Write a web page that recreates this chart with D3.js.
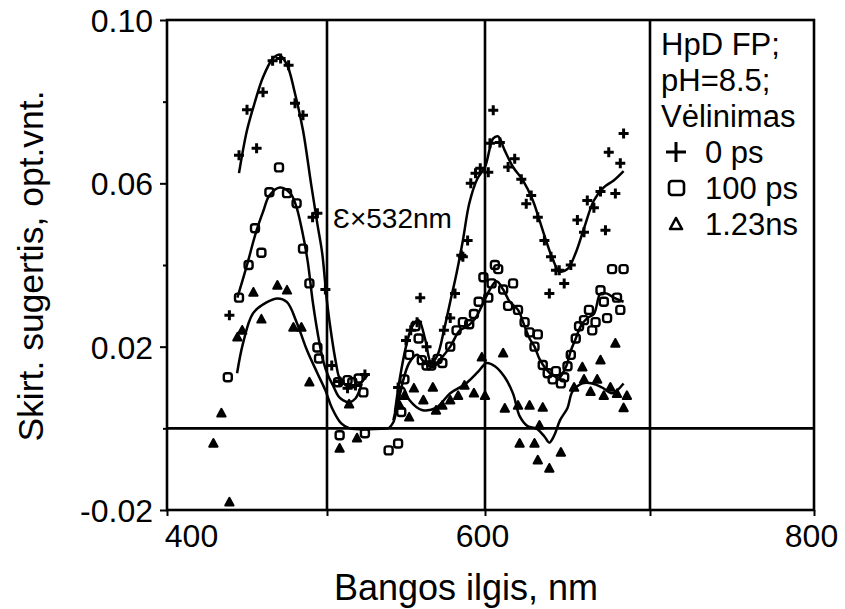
<!DOCTYPE html>
<html>
<head>
<meta charset="utf-8">
<script src="https://cdn.jsdelivr.net/npm/d3@7"></script>
<style>
  body { margin: 0; background: #fff; }
  svg { display: block; }
  text { font-family: "Liberation Sans", Arial, Helvetica, sans-serif; fill: #000; }
</style>
</head>
<body>
<svg id="chart" width="845" height="609"></svg>
<script>
// Axis ticks and labels
const xTicks = [400, 500, 600, 700, 800];
const xLabels = [400, 600, 800];
const yMajor = [-0.02, 0.02, 0.06, 0.10];
const yMinor = [0.00, 0.04, 0.08];
const yLabels = ["-0.02", "0.02", "0.06", "0.10"];
const xTitle = "Bangos ilgis, nm";
const yTitle = "Skirt. sugertis, opt.vnt.";
const legendHeader = ["HpD FP;", "pH=8.5;", "Vėlinimas"];
const seriesNames = ["0 ps", "100 ps", "1.23ns"];
const laserNote = "Ɛ×532nm";

// Measured points, 0 ps delay
const wl0 = [439, 445, 450, 456, 460, 466, 471, 476, 480, 485, 491, 494, 499, 503, 508, 513, 518, 524,
  545, 550, 553, 557, 559, 563, 567, 574, 578, 581, 585, 586, 589, 591, 594, 597, 602, 603, 605, 609,
  614, 618, 622, 625, 628, 632, 636, 639, 640, 643, 645, 648, 652, 656, 660, 662, 666, 670, 673, 675,
  679, 682, 684];
const ab0 = [0.0277, 0.0669, 0.078, 0.0686, 0.0823, 0.090, 0.0906, 0.0889, 0.0796, 0.0767, 0.0517, 0.0527, 0.034, 0.0154, 0.0115, 0.0098, 0.0105, 0.0132,
  0.010, 0.0215, 0.024, 0.026, 0.032, 0.020, 0.016, 0.024, 0.027, 0.033, 0.0424, 0.042, 0.046, 0.060, 0.0625, 0.0637, 0.0627, 0.0698, 0.0779, 0.070,
  0.064, 0.066, 0.061, 0.055, 0.057, 0.0517, 0.046, 0.033, 0.042, 0.0387, 0.0387, 0.0355, 0.040, 0.051, 0.048, 0.0558, 0.054, 0.058, 0.0485, 0.0676,
  0.0575, 0.0649, 0.0722];

// Measured points, 100 ps delay
const wl100 = [438, 445, 451, 455, 459, 464, 470, 475, 481, 485, 489, 494, 495, 507, 508, 513, 516, 520, 523, 524,
  539, 545, 547, 549, 552, 556, 558, 560, 563, 566, 570, 573, 578, 582, 586, 590, 593, 596, 599, 602, 604, 606, 608,
  611, 614, 617, 620, 624, 627, 630, 632, 635, 638, 641, 643, 646, 648, 650, 652, 655, 657, 660, 663, 665, 667, 670,
  672, 674, 677, 680, 682, 684];
const ab100 = [0.0125, 0.032, 0.040, 0.049, 0.043, 0.0578, 0.0639, 0.0576, 0.0551, 0.044, 0.0355, 0.0198, 0.0171, 0.0113, -0.0017, 0.0118, 0.0113, 0.0122, 0.0088, -0.0012,
  -0.0054, -0.0037, 0.004, 0.012, 0.018, 0.025, 0.022, 0.0167, 0.0154, 0.0154, 0.017, 0.016, 0.020, 0.024, 0.026, 0.0255, 0.028, 0.031, 0.037, 0.032, 0.0355, 0.040, 0.039,
  0.034, 0.030, 0.0355, 0.029, 0.026, 0.0235, 0.020, 0.023, 0.0155, 0.0135, 0.012, 0.014, 0.011, 0.0125, 0.0152, 0.018, 0.022, 0.025, 0.0265, 0.029, 0.024, 0.026, 0.0338,
  0.031, 0.027, 0.039, 0.032, 0.029, 0.039];

// Measured points, 1.23 ns delay
const wl123 = [429, 434, 439, 444, 447, 454, 459, 469, 475, 479, 484, 489, 508, 514, 519,
  546, 549, 552, 555, 561, 567, 569, 573, 578, 583, 587, 593, 598, 600, 611, 612, 620, 621, 627, 630, 632,
  633, 635, 639, 646, 654, 659, 660, 664, 668, 670, 672, 676, 679, 680, 684, 686];
const ab123 = [-0.0037, 0.0037, -0.0181, 0.0223, 0.024, 0.0333, 0.0267, 0.035, 0.0338, 0.0247, 0.0247, 0.0113, -0.0049, 0.0059, -0.0024,
  0.0056, 0.008, 0.0027, 0.0098, 0.0069, 0.010, 0.0044, 0.0056, 0.0069, 0.008, 0.0105, 0.0086, 0.0174, 0.008, 0.0184, 0.0049, 0.0056, -0.0037, 0.0056, -0.0037, -0.0078,
  0.0007, 0.0051, -0.0098, -0.0059, 0.010, 0.015, 0.012, 0.009, 0.012, 0.0167, 0.008, 0.010, 0.0208, 0.0085, 0.005, 0.008];

// Smoothed spectra, split around the 532 nm excitation line
const fit0a = [[445, 0.0625], [450, 0.073], [455, 0.080], [460, 0.086], [466, 0.0905], [470, 0.0915], [475, 0.089],
  [480, 0.082], [485, 0.073], [490, 0.060], [494, 0.050], [497, 0.0429], [500, 0.031], [503, 0.0223], [505.6, 0.0162],
  [508, 0.0122], [512, 0.0105], [515.6, 0.010], [519.4, 0.0105], [523, 0.0118], [525.6, 0.013]];
const fit0b = [[543, 0.004], [546, 0.012], [550, 0.020], [554, 0.025], [558, 0.0265], [562, 0.022], [566, 0.016],
  [570, 0.018], [574, 0.024], [578, 0.031], [582, 0.038], [586, 0.046], [590, 0.055], [595, 0.061], [600, 0.064],
  [605, 0.071], [608, 0.0715], [612, 0.068], [617, 0.064], [623, 0.0607], [629, 0.0558], [633, 0.051], [637, 0.046],
  [641, 0.0415], [645, 0.0385], [650, 0.039], [655, 0.043], [660, 0.049], [666, 0.0558], [672, 0.059], [678, 0.0607], [684, 0.063]];
const fit100a = [[444, 0.032], [450, 0.040], [455.6, 0.048], [460, 0.053], [464, 0.057], [470.6, 0.059], [477, 0.0576],
  [480.6, 0.0546], [484.4, 0.0485], [488, 0.0407], [491, 0.0313], [494.4, 0.0228], [497.5, 0.0167], [500.6, 0.013],
  [503.8, 0.0105], [507, 0.008], [510, 0.0069], [514.4, 0.0064], [518, 0.0073], [520.6, 0.0093], [522, 0.011]];
const fit100b = [[542, 0.002], [547, 0.010], [552, 0.016], [557, 0.018], [562, 0.016], [567, 0.015], [572, 0.017],
  [578, 0.020], [584, 0.024], [589, 0.025], [594, 0.027], [598, 0.030], [603, 0.034], [607, 0.036], [611, 0.034],
  [615, 0.031], [620, 0.029], [624, 0.025], [627, 0.022], [630, 0.020], [633, 0.017], [637, 0.0145], [641, 0.013],
  [645, 0.0125], [649, 0.015], [652, 0.019], [655, 0.022], [658, 0.025], [662, 0.027], [666, 0.028], [670, 0.033],
  [674, 0.033], [678, 0.032], [684, 0.031]];
const fit123a = [[443.8, 0.0135], [447.5, 0.0208], [453.8, 0.0282], [462.5, 0.0309], [469, 0.0318], [475, 0.0309],
  [481, 0.026], [487.5, 0.0191], [494, 0.0135], [499, 0.0093], [503, 0.0051], [509, 0.0012], [514.4, 0.0], [539, 0.0]];
const fit123b = [[539, 0.0], [542, 0.0015], [548, 0.010], [552, 0.007], [560, 0.0045], [569, 0.005], [578, 0.0086],
  [588, 0.011], [596, 0.014], [601, 0.016], [606, 0.0152], [612, 0.0125], [617, 0.0085], [621, 0.003], [626, 0.0005],
  [631, 0.0], [636, -0.002], [639, -0.0035], [642, -0.0017], [645.5, 0.002], [650, 0.005], [653, 0.009], [659, 0.011],
  [665, 0.011], [671, 0.010], [677, 0.0086], [684, 0.011]];

const svg = d3.select("#chart");
const x = d3.scaleLinear().domain(xTicks).range([167, 327, 485, 650, 814]);
const y = d3.scaleLinear().domain([-0.02, 0.10]).range([510, 20]);

const ink = "#000";
const gridW = 2.6;

// Frame
svg.append("rect")
  .attr("x", x(400)).attr("y", y(0.10))
  .attr("width", x(800) - x(400)).attr("height", y(-0.02) - y(0.10))
  .attr("fill", "none").attr("stroke", ink).attr("stroke-width", gridW);

// Grid lines at 500, 600, 700 nm and zero level
svg.selectAll("line.vgrid").data([500, 600, 700]).join("line")
  .attr("x1", d => x(d)).attr("x2", d => x(d))
  .attr("y1", y(0.10)).attr("y2", y(-0.02))
  .attr("stroke", ink).attr("stroke-width", gridW);
svg.append("line")
  .attr("x1", x(400)).attr("x2", x(800))
  .attr("y1", y(0)).attr("y2", y(0))
  .attr("stroke", ink).attr("stroke-width", gridW);

// Axes
const yAxisMajor = d3.axisLeft(y).tickValues(yMajor).tickSize(7).tickFormat((d, i) => yLabels[i]);
const gy = svg.append("g").attr("transform", `translate(${x(400)},0)`).call(yAxisMajor);
gy.select(".domain").remove();
gy.selectAll(".tick line").attr("stroke", ink).attr("stroke-width", 2);
gy.selectAll(".tick text")
  .attr("x", -14).attr("dy", "0.36em")
  .style("font-size", "32px").attr("fill", ink);
const gyMinor = svg.append("g").attr("transform", `translate(${x(400)},0)`)
  .call(d3.axisLeft(y).tickValues(yMinor).tickSize(4).tickFormat(""));
gyMinor.select(".domain").remove();
gyMinor.selectAll(".tick line").attr("stroke", ink).attr("stroke-width", 2);

const gx = svg.append("g").attr("transform", `translate(0,${y(-0.02)})`)
  .call(d3.axisBottom(x).tickValues(xTicks).tickSize(6)
    .tickFormat(d => xLabels.includes(d) ? d : ""));
gx.select(".domain").remove();
gx.selectAll(".tick line").attr("stroke", ink).attr("stroke-width", 2);
gx.selectAll(".tick text")
  .attr("y", 14).attr("dy", "0.71em")
  .style("font-size", "32px").attr("fill", ink)
  .attr("dx", d => d === 400 ? 24 : -3);

// Axis titles
svg.append("text")
  .attr("x", 466).attr("y", 600)
  .attr("text-anchor", "middle")
  .style("font-size", "36px")
  .text(xTitle);
svg.append("text")
  .attr("transform", "translate(43,266) rotate(-90)")
  .attr("text-anchor", "middle")
  .style("font-size", "35.5px")
  .text(yTitle);

// Spectra lines
const line = d3.line().x(d => x(d[0])).y(d => y(d[1])).curve(d3.curveCatmullRom.alpha(0.5));
[fit0a, fit0b, fit100a, fit100b, fit123a, fit123b].forEach(seg => {
  svg.append("path").datum(seg)
    .attr("d", line)
    .attr("fill", "none").attr("stroke", ink)
    .attr("stroke-width", 2.5).attr("stroke-linejoin", "round");
});

// Markers
const plusPath = s => `M${-s},0H${s}M0,${-s}V${s}`;
const triPath = s => `M0,${-s}L${s * 0.95},${s * 0.75}H${-s * 0.95}Z`;

svg.append("g").selectAll("path").data(d3.zip(wl0, ab0)).join("path")
  .attr("transform", d => `translate(${x(d[0])},${y(d[1])})`)
  .attr("d", plusPath(5))
  .attr("stroke", ink).attr("stroke-width", 3).attr("fill", "none");

svg.append("g").selectAll("rect").data(d3.zip(wl100, ab100)).join("rect")
  .attr("x", d => x(d[0]) - 4).attr("y", d => y(d[1]) - 4)
  .attr("width", 8).attr("height", 8).attr("rx", 2.5)
  .attr("stroke", ink).attr("stroke-width", 2.4).attr("fill", "none");

svg.append("g").selectAll("path").data(d3.zip(wl123, ab123)).join("path")
  .attr("transform", d => `translate(${x(d[0])},${y(d[1])})`)
  .attr("d", triPath(4.4))
  .attr("stroke", ink).attr("stroke-width", 2).attr("stroke-linejoin", "round").attr("fill", ink);

// Annotation for the excitation wavelength
svg.append("text")
  .attr("x", 333).attr("y", 228)
  .style("font-size", "28px")
  .text(laserNote);

// Legend
const lg = svg.append("g").attr("transform", "translate(661,0)");
legendHeader.forEach((t, i) => {
  lg.append("text").attr("x", 0).attr("y", 55 + i * 36).style("font-size", "31px").text(t);
});
const symY = [152, 188, 224];
seriesNames.forEach((t, i) => {
  lg.append("text").attr("x", 44).attr("y", symY[i] + 11).style("font-size", "31px").text(t);
});
lg.append("path").attr("d", `M5,${symY[0]}H25M15,${symY[0] - 10}V${symY[0] + 10}`)
  .attr("stroke", ink).attr("stroke-width", 3).attr("fill", "none");
lg.append("rect").attr("x", 8).attr("y", symY[1] - 7).attr("width", 15).attr("height", 14).attr("rx", 3)
  .attr("stroke", ink).attr("stroke-width", 2.6).attr("fill", "none");
lg.append("path").attr("d", `M15,${symY[2] - 6}L21,${symY[2] + 5}H9Z`)
  .attr("stroke", ink).attr("stroke-width", 2.6).attr("stroke-linejoin", "round").attr("fill", "none");
</script>
</body>
</html>
